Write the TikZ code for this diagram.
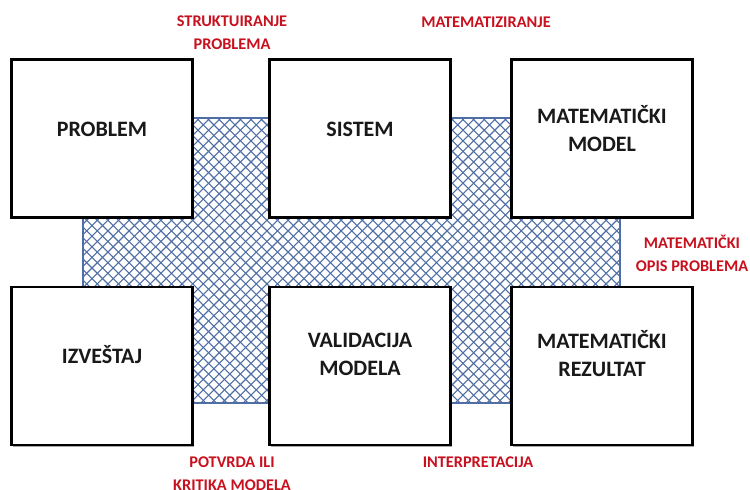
\documentclass[tikz,border=0pt]{standalone}
\usepackage{fontspec}
\setmainfont{Carlito}
\usetikzlibrary{shadows}
\definecolor{hatchblue}{RGB}{79,110,165}
\definecolor{labelred}{RGB}{200,16,30}
\tikzset{
  stepbox/.style={draw=black, line width=2.6pt, fill=white, minimum width=181pt, minimum height=158pt,
    drop shadow={shadow xshift=1.6pt, shadow yshift=-1.6pt, fill=black!35, opacity=1}},
  boxtext/.style={font=\fontsize{22}{28}\selectfont\bfseries, align=center, text=black!90},
  redtext/.style={font=\fontsize{16.3}{23}\selectfont\bfseries, align=center, text=labelred},
  hatch/.style={draw=hatchblue, line width=1.1pt},
}
\begin{document}
\begin{tikzpicture}[x=1pt, y=-1pt]
\useasboundingbox (0,0) rectangle (750,490);
\fill[white] (0,0) rectangle (750,490);

% cross-hatched backdrop
\coordinate (bgtl) at (83,118);
\coordinate (bgbr) at (620,403);
\begin{scope}
  \clip (bgtl) rectangle (bgbr);
  \foreach \i in {0,...,82} {
    \draw[hatch] (-217+\i*10.6,118) -- ++(300,300);
    \draw[hatch] (83+\i*10.6,118) -- ++(-300,300);
  }
\end{scope}
\draw[hatchblue, line width=2pt] (bgtl) rectangle (bgbr);

% boxes
\node[stepbox] (problem) at (102,138.5) {};
\node[stepbox] (sistem)  at (360,138.5) {};
\node[stepbox] (model)   at (602,138.5) {};
\node[stepbox] (izvestaj)   at (102,366) {};
\node[stepbox] (validacija) at (360,366) {};
\node[stepbox] (rezultat)   at (602,366) {};

% box texts
\node[boxtext] (tproblem) at ([yshift=9pt]problem.center) {PROBLEM};
\node[boxtext] (tsistem)  at ([yshift=9pt]sistem.center) {SISTEM};
\node[boxtext] (tmodel)   at ([yshift=10pt]model.center) {MATEMATIČKI\\MODEL};
\node[boxtext] (tizvestaj)   at ([yshift=11pt]izvestaj.center) {IZVEŠTAJ};
\node[boxtext] (tvalidacija) at ([yshift=12pt]validacija.center) {VALIDACIJA\\MODELA};
\node[boxtext] (trezultat)   at ([yshift=12pt]rezultat.center) {MATEMATIČKI\\REZULTAT};

% step labels
\node[redtext] (lstruk)  at (232,33)  {STRUKTUIRANJE\\PROBLEMA};
\node[redtext] (lmatz)   at (486,22)  {MATEMATIZIRANJE};
\node[redtext] (lopis)   at (692,253) {MATEMATIČKI\\OPIS PROBLEMA};
\node[redtext] (lpotv)   at (232,474) {POTVRDA ILI\\KRITIKA MODELA};
\node[redtext] (linterp) at (478,462) {INTERPRETACIJA};
\end{tikzpicture}
\end{document}
